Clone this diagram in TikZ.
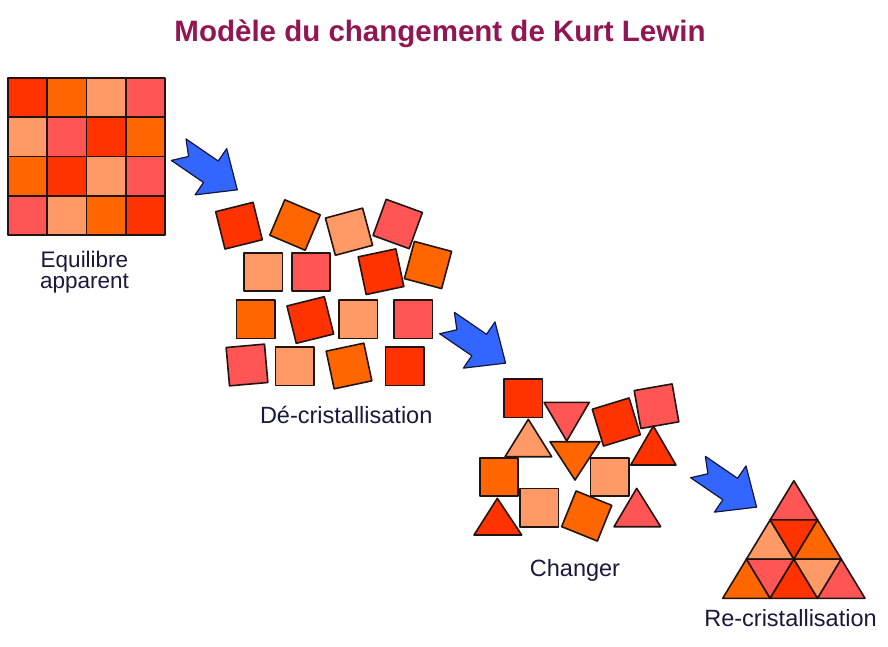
\documentclass[tikz,border=0pt]{standalone}
\usepackage{fontspec}
\setmainfont{Liberation Sans}
\usetikzlibrary{shapes.geometric}
\definecolor{cR}{RGB}{255,51,0}
\definecolor{cO}{RGB}{255,102,0}
\definecolor{cS}{RGB}{255,153,102}
\definecolor{cP}{RGB}{255,85,85}
\definecolor{edgecol}{RGB}{35,20,20}
\definecolor{arrowblue}{RGB}{51,102,255}
\definecolor{arrowedge}{RGB}{20,20,60}
\definecolor{titlecol}{RGB}{145,22,82}
\definecolor{labelcol}{RGB}{25,25,60}
\newcommand\gridcell[3]{\filldraw[tile, fill=#3] ({8+#1*39.25},{78+#2*39.25}) rectangle +(39.25,39.25);}
\begin{document}
\begin{tikzpicture}[x=1pt,y=-1pt,
  tile/.style={draw=edgecol, line width=1.6pt, line join=round},
  sq/.style={tile, shape=rectangle, minimum size=38.5pt, inner sep=0pt, outer sep=0pt},
  blockarrow/.style={fill=arrowblue, draw=arrowedge, line width=1.2pt, line join=round},
  lbl/.style={text=labelcol, font=\fontsize{23.5}{24}\selectfont, inner sep=0pt, anchor=base},
  bigarrow/.pic={\filldraw[blockarrow] (0,13) -- (12,0) -- (0,-13) -- (39,-13) -- (39,-28) -- (71,0) -- (39,28) -- (39,13) -- cycle;}
]
\useasboundingbox[fill=white] (0,0) rectangle (888,646);

% title
\node[font=\fontsize{29.5}{30}\selectfont\bfseries, text=titlecol, anchor=base, inner sep=0pt] (title) at (440,41.7) {Modèle du changement de Kurt Lewin};

% ---- Equilibre apparent: 4x4 grid
\gridcell{0}{0}{cR}\gridcell{1}{0}{cO}\gridcell{2}{0}{cS}\gridcell{3}{0}{cP}
\gridcell{0}{1}{cS}\gridcell{1}{1}{cP}\gridcell{2}{1}{cR}\gridcell{3}{1}{cO}
\gridcell{0}{2}{cO}\gridcell{1}{2}{cR}\gridcell{2}{2}{cS}\gridcell{3}{2}{cP}
\gridcell{0}{3}{cP}\gridcell{1}{3}{cS}\gridcell{2}{3}{cO}\gridcell{3}{3}{cR}
\node[lbl, align=center, font=\fontsize{22.5}{21.5}\selectfont] (eq) at (84.5,288.5) {Equilibre\\apparent};

% arrows
\pic[rotate=-34.4] at (178.7,149.7) {bigarrow};
\pic[rotate=-34.4] at (447,323) {bigarrow};
\pic[rotate=-34.4] at (698,467) {bigarrow};

% ---- De-cristallisation
\node[sq, fill=cR, rotate=14]  (d1)  at (239,225.7) {};
\node[sq, fill=cO, rotate=-23] (d2)  at (295,225) {};
\node[sq, fill=cS, rotate=15]  (d3)  at (349,231.7) {};
\node[sq, fill=cP, rotate=-20] (d4)  at (397.7,224) {};
\node[sq, fill=cS]             (d5)  at (263.3,272) {};
\node[sq, fill=cP]             (d6)  at (311,272) {};
\node[sq, fill=cR, rotate=12]  (d7)  at (381,271.7) {};
\node[sq, fill=cO, rotate=-15] (d8)  at (428,265) {};
\node[sq, fill=cO]             (d9)  at (255.7,319.3) {};
\node[sq, fill=cR, rotate=14]  (d10) at (310.3,320) {};
\node[sq, fill=cS]             (d11) at (358.3,319.3) {};
\node[sq, fill=cP]             (d12) at (413.3,319.3) {};
\node[sq, fill=cP, rotate=5]   (d13) at (247,365) {};
\node[sq, fill=cS]             (d14) at (294.7,366.3) {};
\node[sq, fill=cO, rotate=12]  (d15) at (349,366) {};
\node[sq, fill=cR]             (d16) at (404.7,366.3) {};
\node[lbl] (dc) at (346.2,423.3) {Dé-cristallisation};

% ---- Changer
\filldraw[tile, fill=cS] (528.3,419.3) -- (505,456.7) -- (551.7,456.7) -- cycle;
\filldraw[tile, fill=cP] (544,402.3) -- (589.3,402.3) -- (566.7,441) -- cycle;
\filldraw[tile, fill=cO] (550,441.7) -- (600,441.7) -- (575,480) -- cycle;
\filldraw[tile, fill=cR] (497.3,498.3) -- (474,535) -- (521.7,535) -- cycle;
\filldraw[tile, fill=cP] (636.7,488.3) -- (614,526.7) -- (660.7,526.7) -- cycle;
\node[sq, fill=cR]             (c1) at (523.3,398.3) {};
\node[sq, fill=cR, rotate=17]  (c2) at (616.3,422) {};
\node[sq, fill=cP, rotate=10]  (c3) at (656.5,406.2) {};
\filldraw[tile, fill=cR] (653.3,426) -- (630.7,465) -- (676,465) -- cycle;
\node[sq, fill=cO]             (c4) at (499,477) {};
\node[sq, fill=cS]             (c5) at (609.7,477) {};
\node[sq, fill=cS]             (c6) at (539.3,507.8) {};
\node[sq, fill=cO, rotate=-22] (c7) at (586.7,516) {};
\node[lbl] (ch) at (575,576) {Changer};

% ---- Re-cristallisation
\coordinate (a0) at (793.85,480.7);
\coordinate (b1) at (770.13,519.9); \coordinate (b2) at (817.57,519.9);
\coordinate (c1p) at (746.42,559.1); \coordinate (c2p) at (793.85,559.1); \coordinate (c3p) at (841.28,559.1);
\coordinate (e1) at (722.7,598.3); \coordinate (e2) at (770.13,598.3); \coordinate (e3) at (817.57,598.3); \coordinate (e4) at (865,598.3);
\filldraw[tile, fill=cP] (a0) -- (b1) -- (b2) -- cycle;
\filldraw[tile, fill=cS] (b1) -- (c1p) -- (c2p) -- cycle;
\filldraw[tile, fill=cR] (b1) -- (b2) -- (c2p) -- cycle;
\filldraw[tile, fill=cO] (b2) -- (c2p) -- (c3p) -- cycle;
\filldraw[tile, fill=cO] (c1p) -- (e1) -- (e2) -- cycle;
\filldraw[tile, fill=cP] (c1p) -- (c2p) -- (e2) -- cycle;
\filldraw[tile, fill=cR] (c2p) -- (e2) -- (e3) -- cycle;
\filldraw[tile, fill=cS] (c2p) -- (c3p) -- (e3) -- cycle;
\filldraw[tile, fill=cP] (c3p) -- (e3) -- (e4) -- cycle;
\node[lbl] (rc) at (790.5,626.7) {Re-cristallisation};
\end{tikzpicture}
\end{document}
